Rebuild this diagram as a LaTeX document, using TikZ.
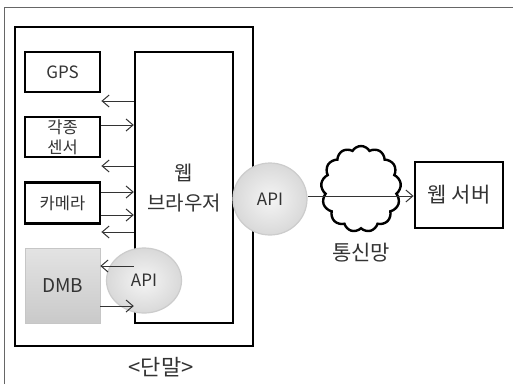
\documentclass[tikz,border=0pt]{standalone}
\usepackage{fontspec}
\setmainfont{Noto Sans CJK KR}
\usetikzlibrary{arrows.meta,shapes.symbols,shapes.geometric}
\begin{document}
\begin{tikzpicture}[x=1pt,y=-1pt,
  thickbox/.style={draw=black, line width=2.8pt, fill=white, rectangle, inner sep=0pt},
  lbl/.style={text=black!80, font=\fontsize{16}{19}\selectfont},
  conn/.style={draw=black!80, line width=1pt, -{Straight Barb[length=7pt,width=12pt,line width=1pt]}},
  apinode/.style={ellipse, draw=gray!40, line width=1.2pt, inner color=gray!8, outer color=gray!30, text=black!80, font=\fontsize{17}{19}\selectfont, inner sep=0pt}
]
\useasboundingbox (0,0) rectangle (514,384);
\draw[line width=1pt, black!60] (4,384) -- (4,7) -- (513,7);

\node[thickbox, minimum width=238pt, minimum height=319pt] (term) at (134,186.5) {};
\node[thickbox, line width=2.4pt, minimum width=98pt, minimum height=271pt] (browser) at (184,187.5) {};
\node[lbl, font=\fontsize{20}{30}\selectfont, align=center] (btext) at (184,188) {웹\\브라우저};

\node[thickbox, minimum width=75pt, minimum height=40pt, lbl, font=\fontsize{17}{19}\selectfont] (gps) at (62.5,72) {GPS};
\node[thickbox, minimum width=75pt, minimum height=40pt, lbl, align=center, font=\fontsize{16.5}{20}\selectfont] (sensor) at (62.5,137) {각종\\센서};
\node[thickbox, minimum width=75pt, minimum height=41pt, lbl, font=\fontsize{16.5}{19}\selectfont] (camera) at (62.5,203) {카메라};
\node[rectangle, draw=gray!45, line width=0.6pt, top color=gray!22, bottom color=gray!42, minimum width=75pt, minimum height=75pt, lbl, font=\fontsize{19}{21}\selectfont] (dmb) at (62.5,285.5) {DMB};

\node[apinode, minimum width=75pt, minimum height=65pt] (api1) at (144,280.5) {API};
\node[apinode, minimum width=74pt, minimum height=72pt] (api2) at (270,199) {API};

\node[cloud, cloud puffs=13, cloud puff arc=120, aspect=0.9, draw=black, line width=2.4pt, fill=white, minimum width=80pt, minimum height=86pt] (cloud) at (361,189) {};
\node[thickbox, minimum width=88pt, minimum height=66pt, lbl, font=\fontsize{21}{24}\selectfont] (server) at (459,195) {웹 서버};

\node[lbl, font=\fontsize{21}{24}\selectfont] (net) at (361,253) {통신망};
\node[lbl, font=\fontsize{22}{25}\selectfont] (termlbl) at (161,367) {<단말>};

\coordinate (y1) at (0,101);
\coordinate (y2) at (0,125);
\coordinate (y3) at (0,166);
\coordinate (y4) at (0,192);
\coordinate (y5) at (0,215);
\coordinate (y6) at (0,232);
\coordinate (y7) at (0,266);
\coordinate (y8) at (0,306);
\coordinate (y9) at (0,196);

\draw[conn] (browser.west |- y1) -- (gps.east |- y1);
\draw[conn] (sensor.east |- y2) -- (browser.west |- y2);
\draw[conn] (browser.west |- y3) -- (sensor.east |- y3);
\draw[conn] (camera.east |- y4) -- (browser.west |- y4);
\draw[conn] (camera.east |- y5) -- (browser.west |- y5);
\draw[conn] (browser.west |- y6) -- (camera.east |- y6);
\draw[conn] (browser.west |- y7) -- (dmb.east |- y7);
\draw[conn] (dmb.east |- y8) -- (browser.west |- y8);
\draw[conn] (api2.east |- y9) -- (server.west |- y9);
\end{tikzpicture}
\end{document}
